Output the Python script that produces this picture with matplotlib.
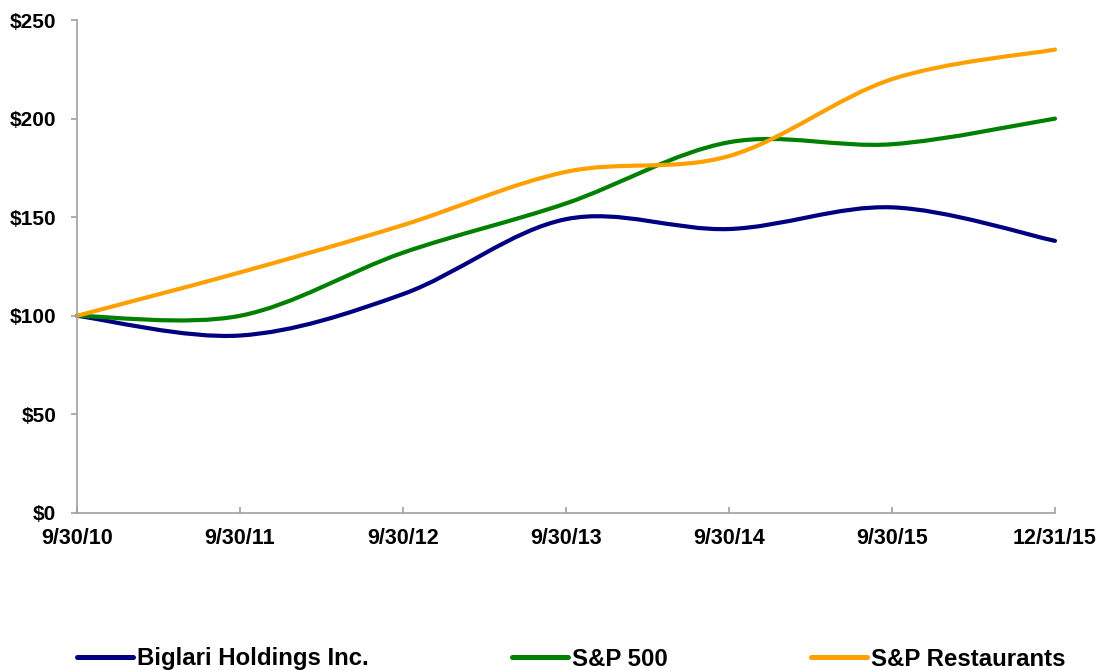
import numpy as np
import matplotlib.pyplot as plt
from matplotlib.path import Path
from matplotlib.patches import PathPatch
from matplotlib.lines import Line2D

plt.rcParams['font.family'] = ['Liberation Sans', 'DejaVu Sans']
plt.rcParams['font.weight'] = 'bold'

dates = ['9/30/10', '9/30/11', '9/30/12', '9/30/13', '9/30/14', '9/30/15', '12/31/15']
biglari = [100, 90, 111, 149, 144, 155, 138]
sp500 = [100, 100, 132, 157, 188, 187, 200]
restaurants = [100, 122, 146, 173, 181, 220, 235]

names = ['Biglari Holdings Inc.', 'S&P 500', 'S&P Restaurants']
colors = ['#000080', '#008000', '#FFA000']


def smooth_path(xs, ys):
    # Excel-like smoothed line: cubic bezier segments, catmull-rom control points
    pts = np.column_stack([xs, ys]).astype(float)
    n = len(pts)
    verts = [pts[0]]
    codes = [Path.MOVETO]
    for i in range(n - 1):
        p0 = pts[i - 1] if i > 0 else pts[i]
        p1 = pts[i]
        p2 = pts[i + 1]
        p3 = pts[i + 2] if i + 2 < n else pts[i + 1]
        c1 = p1 + (p2 - p0) / 6.0
        c2 = p2 - (p3 - p1) / 6.0
        verts += [c1, c2, p2]
        codes += [Path.CURVE4] * 3
    return Path(verts, codes)


fig = plt.figure(figsize=(11.01, 6.70), dpi=100)
ax = fig.add_axes([77 / 1101, 157 / 670, (1055 - 77) / 1101, (513 - 20) / 670])

x = np.arange(len(dates))
handles = []
for vals, c, name in zip([biglari, sp500, restaurants], colors, names):
    patch = PathPatch(smooth_path(x, vals), facecolor='none', edgecolor=c,
                      lw=3, capstyle='round', joinstyle='round', clip_on=False)
    ax.add_patch(patch)
    handles.append(Line2D([], [], color=c, lw=3.6, solid_capstyle='round', label=name))

ax.set_xlim(0, len(dates) - 1)
ax.set_ylim(0, 250)
ax.set_xticks(x)
ax.set_xticklabels(dates)
ax.set_yticks(range(0, 251, 50))
ax.set_yticklabels(['$%d' % v for v in range(0, 251, 50)])

for s in ['top', 'right']:
    ax.spines[s].set_visible(False)
for s in ['left', 'bottom']:
    ax.spines[s].set_color('#A0A0A0')
    ax.spines[s].set_linewidth(1.2)

ax.tick_params(axis='y', direction='out', length=4, width=1.2, color='#A0A0A0',
               pad=11, labelsize=15)
ax.tick_params(axis='x', direction='in', length=4, width=1.2, color='#A0A0A0',
               pad=11, labelsize=15.5)

fig.legend(handles=handles, loc='center left', bbox_to_anchor=(77 / 1101, 11 / 670),
           ncol=3, frameon=False, fontsize=17.3, handlelength=2.33, handletextpad=0.17,
           columnspacing=5.95, borderpad=0, borderaxespad=0)

fig.savefig('out.png', dpi=100)
